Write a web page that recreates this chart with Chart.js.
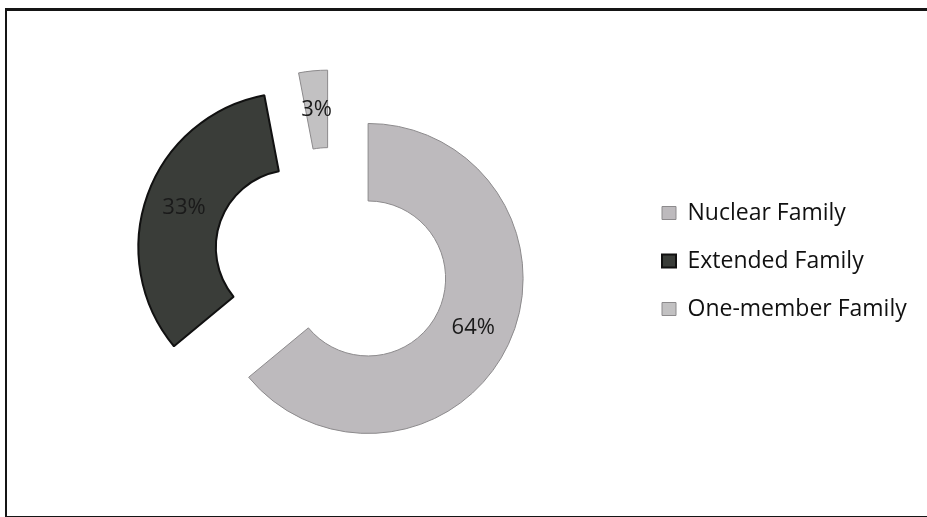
<!DOCTYPE html>
<html>
<head>
<meta charset="utf-8">
<script src="https://cdn.jsdelivr.net/npm/chart.js@4/dist/chart.umd.min.js"></script>
<style>
    html, body { margin: 0; padding: 0; background: #fff; }
    body { width: 927px; height: 517px; position: relative; overflow: hidden; }
    .frame {
        position: absolute; left: 5px; top: 8px; width: 960px; height: 505px;
        border-left: 2px solid #151515; border-top: 3px solid #151515; border-bottom: 2px solid #151515;
    }
    .chart-box { position: absolute; left: 0; top: 0; width: 927px; height: 517px; }
</style>
</head>
<body>
<div class="frame"></div>
<div class="chart-box"><canvas id="familyChart"></canvas></div>
<script>
// Data
const categories = ['Nuclear Family', 'Extended Family', 'One-member Family'];
const shares = [64, 33, 3];

// Styling
const fillColors = ['#bdbabd', '#3a3d39', '#c2c1c2'];
const edgeColors = ['#8c8a8c', '#111111', '#8c8a8c'];
const edgeWidths = [1, 2, 1];
const explodeBy = [41, 40, 36];   // how far each slice is pulled out (px)
const fontFamily = '"Open Sans", "Noto Sans", sans-serif';
const legendFontSize = 23;
const legendPad = 25;
const legendBox = 14;
const legendLeft = 637;           // where the legend column starts

// legend width as Chart.js computes it, so the layout padding can put it at legendLeft
const measureCtx = document.createElement('canvas').getContext('2d');
measureCtx.font = legendFontSize + 'px ' + fontFamily;
const longestLabel = Math.max(...categories.map(c => measureCtx.measureText(c).width));
const legendWidth = legendPad + legendBox + legendFontSize / 2 + longestLabel + 10;
const rightPad = Math.max(0, 927 - legendLeft - legendWidth);

function sliceShift(arc, i) {
    const mid = (arc.startAngle + arc.endAngle) / 2;
    return { dx: Math.cos(mid) * explodeBy[i], dy: Math.sin(mid) * explodeBy[i] };
}

// Draw each arc pulled away from the centre, like an exploded Excel doughnut
const explodePlugin = {
    id: 'explode',
    beforeDatasetDraw(chart, args) {
        const ctx = chart.ctx;
        args.meta.data.forEach((arc, i) => {
            const s = sliceShift(arc, i);
            ctx.save();
            ctx.translate(s.dx, s.dy);
            arc.draw(ctx);
            ctx.restore();
        });
        return false;
    },
    afterDatasetsDraw(chart) {
        const ctx = chart.ctx;
        const meta = chart.getDatasetMeta(0);
        ctx.save();
        ctx.font = '22px ' + fontFamily;
        ctx.fillStyle = '#1a1a1a';
        ctx.textAlign = 'center';
        ctx.textBaseline = 'middle';
        meta.data.forEach((arc, i) => {
            const p = arc.tooltipPosition();
            const s = sliceShift(arc, i);
            ctx.fillText(shares[i] + '%', p.x + s.dx, p.y + s.dy);
        });
        ctx.restore();
    }
};

const ctx = document.getElementById('familyChart').getContext('2d');
new Chart(ctx, {
    type: 'doughnut',
    data: {
        labels: categories,
        datasets: [{
            data: shares,
            backgroundColor: fillColors,
            borderColor: edgeColors,
            borderWidth: edgeWidths
        }]
    },
    options: {
        responsive: true,
        maintainAspectRatio: false,
        animation: false,
        radius: 155,
        cutout: '50%',
        layout: {
            padding: { left: 25, right: rightPad, top: 20, bottom: 15 }
        },
        plugins: {
            legend: {
                position: 'right',
                align: 'center',
                labels: {
                    boxWidth: legendBox,
                    boxHeight: 13,
                    padding: legendPad,
                    color: '#111',
                    font: { family: fontFamily, size: legendFontSize }
                }
            },
            tooltip: { enabled: false }
        }
    },
    plugins: [explodePlugin]
});
</script>
</body>
</html>
